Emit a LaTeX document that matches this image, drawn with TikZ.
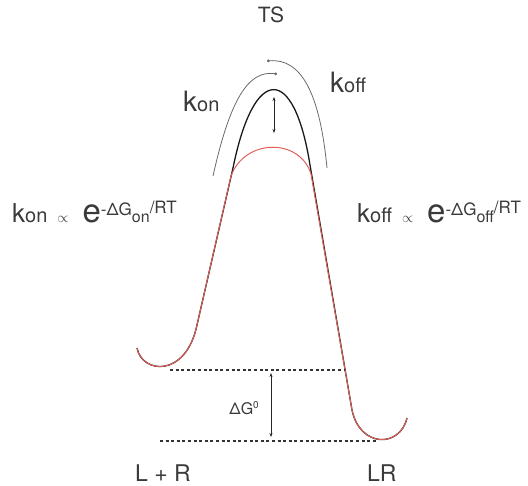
\documentclass[tikz,border=0pt]{standalone}
\usepackage{fontspec}
\setmainfont{TeX Gyre Heros}
\usetikzlibrary{arrows.meta}
\definecolor{txt}{HTML}{3A3A3A}
\definecolor{curvered}{HTML}{E0605A}
\definecolor{arcgray}{HTML}{6A6A6A}
\newcommand{\fsz}[1]{\fontsize{#1}{#1}\selectfont}
\begin{document}
\begin{tikzpicture}[x=1pt,y=-1pt,
  lbl/.style={inner sep=0pt,text=txt,font=\fsz{23}},
  blackline/.style={draw=black!90,line width=1.3pt,line join=round},
  redline/.style={draw=curvered,line width=1.0pt,line join=round},
  arcline/.style={draw=arcgray,line width=0.8pt,-{Circle[length=2.8pt]}},
  dgarrow/.style={draw=black!85,line width=0.9pt,{Stealth[length=4pt,width=3pt]}-{Stealth[length=4pt,width=3pt]}},
  dotline/.style={draw=black!80,line width=1.5pt,dash pattern=on 3pt off 2.6pt}]
\useasboundingbox (0,0) rectangle (528,486);
% energy profiles
\draw[blackline] (137,348) .. controls (142,374) and (186,378) .. (197,325)
  -- (233,168) .. controls (254,64) and (294,64) .. (310,165)
  -- (352,410) .. controls (360,448) and (400,448) .. (407,418);
\draw[redline] (137,348) .. controls (142,374) and (186,378) .. (197,325)
  -- (231,176) .. controls (245,138) and (300,138) .. (311,174)
  -- (352,410) .. controls (360,448) and (400,448) .. (407,418);
% rate arcs
\coordinate (onS) at (213,176);
\coordinate (onE) at (277,74);
\coordinate (offS) at (327,168);
\coordinate (offE) at (267,61);
\draw[arcline] (onS) .. controls (230,100) and (248,70) .. (onE);
\draw[arcline] (offS) .. controls (320,95) and (302,58) .. (offE);
% barrier shift arrow
\coordinate (bTop) at (274,97);
\coordinate (bBot) at (274,133);
\draw[dgarrow] (bTop) -- (bBot);
% dotted levels
\coordinate (l1a) at (170,370);
\coordinate (l1b) at (345,370);
\coordinate (l2a) at (160,441);
\coordinate (l2b) at (378,441);
\draw[dotline] (l1a) -- (l1b);
\draw[dotline] (l2a) -- (l2b);
\coordinate (gTop) at (271,373);
\coordinate (gBot) at (271,437);
\draw[dgarrow] (gTop) -- (gBot);
% labels
\node[lbl,font=\fsz{21}] (ts) at (271,15) {TS};
\node[lbl,anchor=base west] (kon) at (183,112) {{\fsz{28}k}{\fsz{20}on}};
\node[lbl,anchor=base west] (koff) at (330,93) {{\fsz{28}k}{\fsz{20}off}};
\node[lbl,anchor=base east,font=\fsz{16}] (dg) at (259,415) {ΔG\raisebox{6pt}{\fsz{10}0}};
\node[lbl,anchor=base west] (lr1) at (135,482) {L + R};
\node[lbl,anchor=base west] (lr2) at (367,482) {LR};
\node[lbl,anchor=base west] (fon) at (12,223)
  {{\fsz{26}k}{\fsz{20}on}\hspace{10pt}{\fsz{15}$\propto$}\hspace{14pt}{\fsz{33}e}\raisebox{7pt}{\fsz{17}-ΔG\raisebox{-7pt}{\fsz{16}on}\raisebox{2pt}{/RT}}};
\node[lbl,anchor=base west] (foff) at (357,223)
  {{\fsz{26}k}{\fsz{20}off}\hspace{10pt}{\fsz{15}$\propto$}\hspace{14pt}{\fsz{33}e}\raisebox{7pt}{\fsz{17}-ΔG\raisebox{-7pt}{\fsz{16}off}\raisebox{2pt}{/RT}}};
\end{tikzpicture}
\end{document}
